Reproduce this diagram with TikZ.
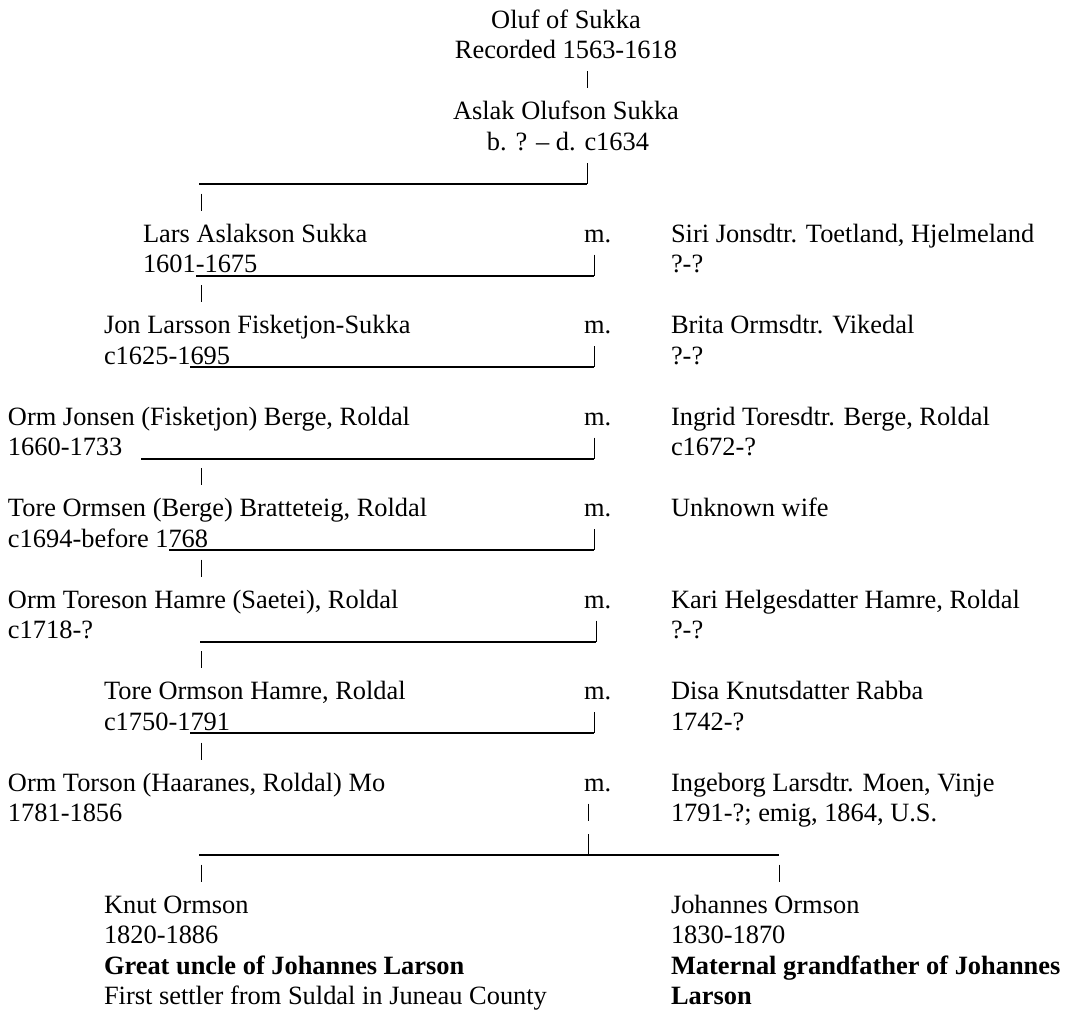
\documentclass[tikz,border=0pt]{standalone}
\usepackage{fontspec}
\setmainfont{Liberation Serif}
\begin{document}
\begin{tikzpicture}[x=1pt,y=-1pt,
  txt/.style={anchor=base west,inner sep=0pt,outer sep=0pt,font=\fontsize{26.4}{30.5}\selectfont},
  ctr/.style={txt,anchor=base},
  btxt/.style={txt,font=\fontsize{26.4}{30.5}\selectfont\bfseries},
  uline/.style={line width=2pt},
  vbar/.style={line width=1pt}]
\useasboundingbox[fill=white] (0,0) rectangle (1076,1014);

% top, centred
\node[ctr] (oluf) at (566,28.5) {Oluf of Sukka};
\node[ctr] (olufd) at (566,59) {Recorded 1563-1618};
\coordinate (b3a) at (587,71.5); \coordinate (b3b) at (587,88.5);
\draw[vbar] (b3a) -- (b3b);
\node[ctr] (aslak) at (566,120) {Aslak Olufson Sukka};
\node[ctr] (aslakd) at (568,150.5) {b. ? -- d. c1634};
\coordinate (b6a) at (587,163); \coordinate (b6b) at (587,184);
\coordinate (l6a) at (199,184);
\draw[vbar] (b6a) -- (b6b);
\draw[uline] (l6a) -- (b6b);
\coordinate (b7a) at (201,193.5); \coordinate (b7b) at (201,210.5);
\draw[vbar] (b7a) -- (b7b);

% Lars
\node[txt] (lars) at (143,242) {Lars Aslakson Sukka};
\node[txt] (m1) at (584,242) {m.};
\node[txt] (siri) at (671,242) {Siri Jonsdtr. Toetland, Hjelmeland};
\node[txt] (larsd) at (143,272.5) {1601-1675};
\node[txt] (sirid) at (671,272.5) {?-?};
\coordinate (l9a) at (196,275.5); \coordinate (l9b) at (594,275.5);
\coordinate (b9a) at (594,254.5);
\draw[uline] (l9a) -- (l9b);
\draw[vbar] (b9a) -- (l9b);
\coordinate (b10a) at (201,285); \coordinate (b10b) at (201,302);
\draw[vbar] (b10a) -- (b10b);

% Jon
\node[txt] (jon) at (104,333.5) {Jon Larsson Fisketjon-Sukka};
\node[txt] (m2) at (584,333.5) {m.};
\node[txt] (brita) at (671,333.5) {Brita Ormsdtr. Vikedal};
\node[txt] (jond) at (104,364) {c1625-1695};
\node[txt] (britad) at (671,364) {?-?};
\coordinate (l12a) at (190,367); \coordinate (l12b) at (594,367);
\coordinate (b12a) at (594,346);
\draw[uline] (l12a) -- (l12b);
\draw[vbar] (b12a) -- (l12b);

% Orm Jonsen
\node[txt] (ormj) at (8,425) {Orm Jonsen (Fisketjon) Berge, Roldal};
\node[txt] (m3) at (584,425) {m.};
\node[txt] (ingrid) at (671,425) {Ingrid Toresdtr. Berge, Roldal};
\node[txt] (ormjd) at (8,455.5) {1660-1733};
\node[txt] (ingridd) at (671,455.5) {c1672-?};
\coordinate (l15a) at (141,458.5); \coordinate (l15b) at (594,458.5);
\coordinate (b15a) at (594,437.5);
\draw[uline] (l15a) -- (l15b);
\draw[vbar] (b15a) -- (l15b);
\coordinate (b16a) at (201,468); \coordinate (b16b) at (201,485);
\draw[vbar] (b16a) -- (b16b);

% Tore Ormsen
\node[txt] (toreo) at (8,516.5) {Tore Ormsen (Berge) Bratteteig, Roldal};
\node[txt] (m4) at (584,516.5) {m.};
\node[txt] (unk) at (671,516.5) {Unknown wife};
\node[txt] (toreod) at (8,547) {c1694-before 1768};
\coordinate (l18a) at (169,550); \coordinate (l18b) at (594,550);
\coordinate (b18a) at (594,529);
\draw[uline] (l18a) -- (l18b);
\draw[vbar] (b18a) -- (l18b);
\coordinate (b19a) at (201,559.5); \coordinate (b19b) at (201,576.5);
\draw[vbar] (b19a) -- (b19b);

% Orm Toreson
\node[txt] (ormt) at (8,608) {Orm Toreson Hamre (Saetei), Roldal};
\node[txt] (m5) at (584,608) {m.};
\node[txt] (kari) at (671,608) {Kari Helgesdatter Hamre, Roldal};
\node[txt] (ormtd) at (8,638.5) {c1718-?};
\node[txt] (karid) at (671,638.5) {?-?};
\coordinate (l21a) at (200,641.5); \coordinate (l21b) at (596,641.5);
\coordinate (b21a) at (596,620.5);
\draw[uline] (l21a) -- (l21b);
\draw[vbar] (b21a) -- (l21b);
\coordinate (b22a) at (201,651); \coordinate (b22b) at (201,668);
\draw[vbar] (b22a) -- (b22b);

% Tore Ormson
\node[txt] (toreh) at (104,699.5) {Tore Ormson Hamre, Roldal};
\node[txt] (m6) at (584,699.5) {m.};
\node[txt] (disa) at (671,699.5) {Disa Knutsdatter Rabba};
\node[txt] (torehd) at (104,730) {c1750-1791};
\node[txt] (disad) at (671,730) {1742-?};
\coordinate (l24a) at (190,733); \coordinate (l24b) at (594,733);
\coordinate (b24a) at (594,712);
\draw[uline] (l24a) -- (l24b);
\draw[vbar] (b24a) -- (l24b);
\coordinate (b25a) at (201,742.5); \coordinate (b25b) at (201,759.5);
\draw[vbar] (b25a) -- (b25b);

% Orm Torson
\node[txt] (ormm) at (8,791) {Orm Torson (Haaranes, Roldal) Mo};
\node[txt] (m7) at (584,791) {m.};
\node[txt] (inge) at (671,791) {Ingeborg Larsdtr. Moen, Vinje};
\node[txt] (ormmd) at (8,821.5) {1781-1856};
\node[txt] (inged) at (671,821.5) {1791-?; emig, 1864, U.S.};
\coordinate (b27a) at (588,803.5); \coordinate (b27b) at (588,820.5);
\draw[vbar] (b27a) -- (b27b);
\coordinate (b28a) at (588,834); \coordinate (b28b) at (588,855);
\coordinate (l28a) at (199,855); \coordinate (l28b) at (779,855);
\draw[vbar] (b28a) -- (b28b);
\draw[uline] (l28a) -- (l28b);
\coordinate (b29a) at (201,864.5); \coordinate (b29b) at (201,881.5);
\coordinate (b29c) at (779,864.5); \coordinate (b29d) at (779,881.5);
\draw[vbar] (b29a) -- (b29b);
\draw[vbar] (b29c) -- (b29d);

% children
\node[txt] (knut) at (104,913) {Knut Ormson};
\node[txt] (knutd) at (104,943.5) {1820-1886};
\node[btxt] (knutr) at (104,974) {Great uncle of Johannes Larson};
\node[txt] (knutn) at (104,1004.5) {First settler from Suldal in Juneau County};
\node[txt] (joh) at (671,913) {Johannes Ormson};
\node[txt] (johd) at (671,943.5) {1830-1870};
\node[btxt] (johr) at (671,974) {Maternal grandfather of Johannes};
\node[btxt] (johr2) at (671,1004.5) {Larson};
\end{tikzpicture}
\end{document}
